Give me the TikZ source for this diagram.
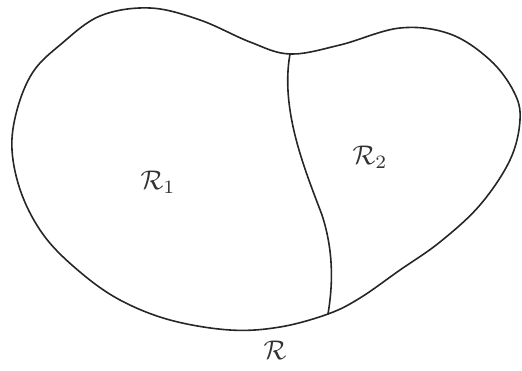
\documentclass[tikz,border=0pt]{standalone}
\begin{document}
\begin{tikzpicture}[x=1pt,y=-1pt,
  outline/.style={line width=1.6pt,draw=black!85,line join=round,line cap=round},
  lbl/.style={scale=2.7,text=black!80}]
\useasboundingbox (0,0) rectangle (522,371);
\draw[outline] plot[smooth cycle,tension=0.6] coordinates {
 (60,45) (100,16) (150,8) (200,20) (250,42) (290,54) (340,45) (400,28) (450,34)
 (490,60) (514,92) (520,120) (510,160) (480,205) (440,242) (400,270) (360,298)
 (328,314) (280,327) (230,330) (170,320) (120,300) (80,272) (45,237) (22,195)
 (12,150) (17,110) (33,72)};
\coordinate (top) at (290,54);
\coordinate (bot) at (328,314);
\draw[outline] (top) .. controls (280,110) and (305,170) .. (322,215)
  .. controls (335,255) and (332,290) .. (bot);
\node[lbl] (r1) at (158,182) {$\mathcal{R}_1$};
\node[lbl] (r2) at (370,157) {$\mathcal{R}_2$};
\node[lbl] (r) at (275,350) {$\mathcal{R}$};
\end{tikzpicture}
\end{document}
